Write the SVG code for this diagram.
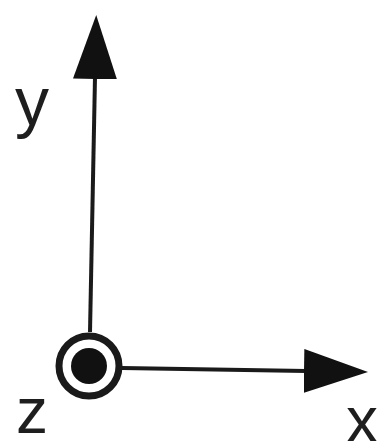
<svg xmlns="http://www.w3.org/2000/svg" width="380" height="441" viewBox="0 0 380 441">
<style>
.ax{stroke:#1a1a1a;stroke-width:4;fill:none}
.lbl{font-family:"Liberation Sans",Arial,sans-serif;font-size:64px;fill:#1e1e1e}
</style>
<defs>
<marker id="ah" viewBox="0 0 64 44" refX="2" refY="22" markerWidth="64" markerHeight="44" markerUnits="userSpaceOnUse" orient="auto" preserveAspectRatio="none">
<path d="M0,0 L64,22 L0,44 Z" fill="#111"/>
</marker>
</defs>
<rect width="380" height="441" fill="#fff"/>
<g id="connectors">
<line class="ax" x1="90" y1="332" x2="95" y2="77" marker-end="url(#ah)"/>
<line class="ax" x1="122" y1="368" x2="306" y2="371" marker-end="url(#ah)"/>
</g>
<g id="origin">
<circle cx="89" cy="366" r="30" fill="#fff" stroke="#1a1a1a" stroke-width="7"/>
<circle cx="89" cy="366" r="18" fill="#111"/>
</g>
<g id="label-y"><text class="lbl" x="15" y="125" style="font-size:68px">y</text></g>
<g id="label-z"><text class="lbl" x="16" y="433">z</text></g>
<g id="label-x"><text class="lbl" x="346" y="442">x</text></g>
</svg>
